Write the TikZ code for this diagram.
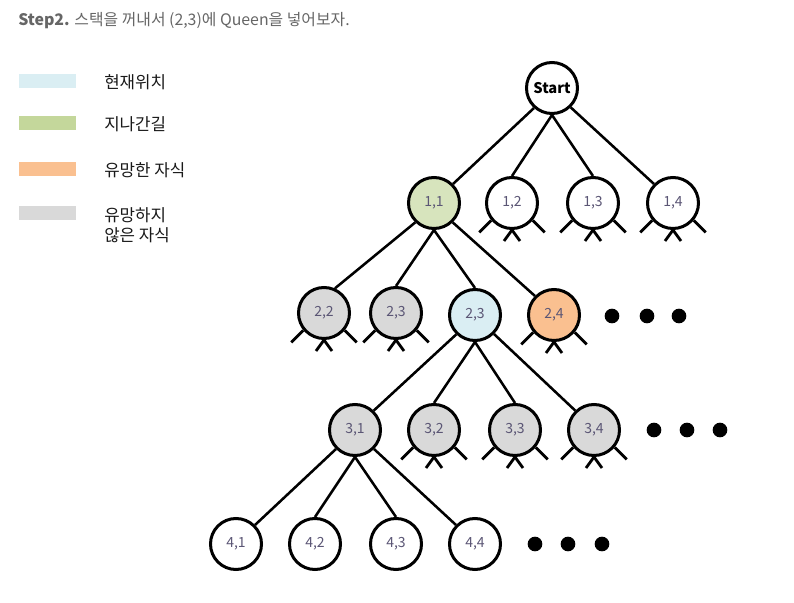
\documentclass[tikz,border=0pt]{standalone}
\usepackage{fontspec}
\newfontfamily\kr{Noto Sans CJK KR}
\usetikzlibrary{calc}
\definecolor{cblue}{HTML}{DAEEF3}
\definecolor{cgreen}{HTML}{C4D79B}
\definecolor{ngreen}{HTML}{D7E4BD}
\definecolor{corange}{HTML}{FAC090}
\definecolor{cgray}{HTML}{D9D9D9}
\definecolor{labc}{HTML}{5B5675}
\definecolor{titc}{HTML}{666666}
\newcommand\mystubs[1]{%
  \draw[stub] (#1.220) -- ++(-12,12);
  \draw[stub] ($(#1.south)+(-8,11)$) -- (#1.south) -- ++(8,11);
  \draw[stub] (#1.320) -- ++(12,12);}
\begin{document}
\begin{tikzpicture}[x=0.75pt,y=-0.75pt,
  nd/.style={circle, draw, line width=2.25pt, minimum size=38.25pt, inner sep=0pt,
    font=\kr\fontsize{10.5}{12}\selectfont, text=labc, fill=white},
  edge/.style={line width=1.9pt},
  stub/.style={line width=2.1pt},
  leg/.style={anchor=base west, inner sep=0pt, font=\kr\fontsize{12.6}{14}\selectfont, text=black!90},
  dotc/.style={circle, fill=black, inner sep=0pt, minimum size=11pt}]
\useasboundingbox (0,0) rectangle (794,603);
% title
\node[anchor=base west, inner sep=0pt, text=titc, font=\kr\fontsize{11.9}{14}\selectfont] (title) at (18,25.5) {\textbf{Step2.} 스택을 꺼내서 (2,3)에 Queen을 넣어보자.};
% legend
\fill[cblue] (19,74) rectangle (76,88);
\fill[cgreen] (19,116) rectangle (76,130);
\fill[corange] (19,162) rectangle (76,176);
\fill[cgray] (19,206) rectangle (76,220);
\node[leg] (l1) at (104,89) {현재위치};
\node[leg] (l2) at (104,130) {지나간길};
\node[leg] (l3) at (104,176) {유망한 자식};
\node[leg] (l4) at (104,221) {유망하지};
\node[leg] (l5) at (104,241) {않은 자식};
% nodes
\node[nd, text=black, font=\kr\bfseries\fontsize{11}{13}\selectfont] (S) at (552,88) {Start};
\node[nd, fill=ngreen] (11) at (434,203) {1,1};
\node[nd] (12) at (512,203) {1,2};
\node[nd] (13) at (593,203) {1,3};
\node[nd] (14) at (673,203) {1,4};
\node[nd, fill=cgray] (22) at (324,313) {2,2};
\node[nd, fill=cgray] (23g) at (396,313) {2,3};
\node[nd, fill=cblue] (23) at (475,315) {2,3};
\node[nd, fill=corange] (24) at (554,315) {2,4};
\node[nd, fill=cgray] (31) at (355,430) {3,1};
\node[nd, fill=cgray] (32) at (434,430) {3,2};
\node[nd, fill=cgray] (33) at (515,430) {3,3};
\node[nd, fill=cgray] (34) at (594,430) {3,4};
\node[nd] (41) at (236,544) {4,1};
\node[nd] (42) at (315,544) {4,2};
\node[nd] (43) at (396,544) {4,3};
\node[nd] (44) at (475,544) {4,4};
% dots
\node[dotc] (d21) at (612,316) {};
\node[dotc] (d22) at (647,316) {};
\node[dotc] (d23) at (679,316) {};
\node[dotc] (d31) at (654,430) {};
\node[dotc] (d32) at (687,430) {};
\node[dotc] (d33) at (720,430) {};
\node[dotc] (d41) at (535,544) {};
\node[dotc] (d42) at (568,544) {};
\node[dotc] (d43) at (602,544) {};
% edges
\draw[edge] (S.228) -- (11.45);
\draw[edge] (S.south) -- (12.north);
\draw[edge] (S.south) -- (13.north);
\draw[edge] (S.314) -- (14.135);
\draw[edge] (11.226) -- (22.66);
\draw[edge] (11.south) -- (23g.north);
\draw[edge] (11.south) -- (23.north);
\draw[edge] (11.314) -- (24.135);
\draw[edge] (23.226) -- (31.46);
\draw[edge] (23.south) -- (32.north);
\draw[edge] (23.south) -- (33.north);
\draw[edge] (23.315) -- (34.134);
\draw[edge] (31.225) -- (41.45);
\draw[edge] (31.south) -- (42.north);
\draw[edge] (31.south) -- (43.north);
\draw[edge] (31.315) -- (44.135);
% stubs
\mystubs{12}\mystubs{13}\mystubs{14}
\mystubs{22}\mystubs{23g}\mystubs{24}
\mystubs{32}\mystubs{33}\mystubs{34}
\end{tikzpicture}
\end{document}
